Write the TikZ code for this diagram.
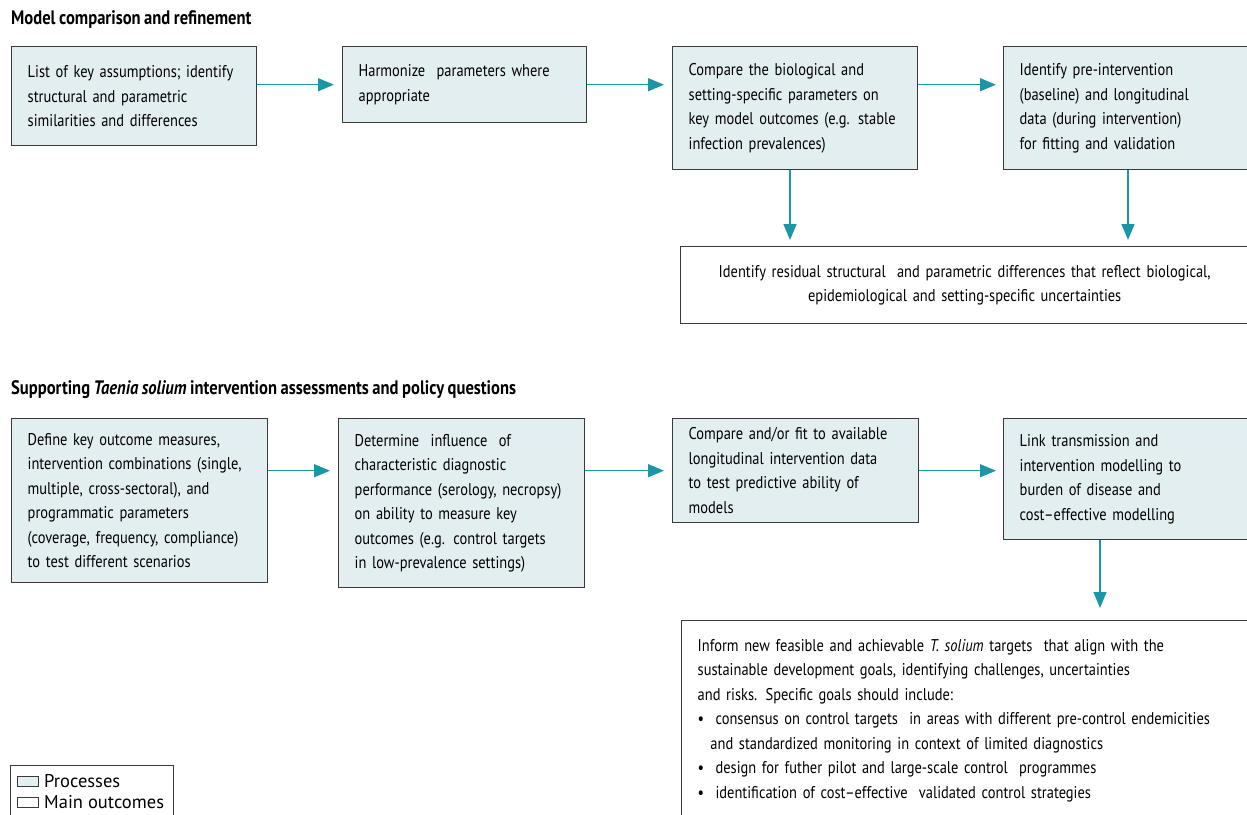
\documentclass[tikz,border=0pt]{standalone}
\usepackage{fontspec}
\setmainfont{PT Sans}[FakeStretch=0.85,WordSpace=0.85]
\newfontfamily\legendfont{PT Sans}
\usetikzlibrary{arrows.meta,calc,positioning}

\definecolor{procfill}{HTML}{E3EEF0}
\definecolor{flowteal}{HTML}{1A96A6}
\definecolor{boxline}{HTML}{3A3A3A}

\tikzset{
    plain box/.style={draw=boxline,line width=1.4pt,anchor=north west,
        inner xsep=12pt,inner ysep=4pt,
        font=\fontsize{17}{24.5}\selectfont},
    left text/.style={align=left,
        execute at begin node={\leftskip=4pt\hyphenpenalty=10000\exhyphenpenalty=10000\relax}},
    process node/.style={plain box,left text,fill=procfill},
    outcome node/.style={plain box,fill=white},
    heading/.style={anchor=west,inner sep=0pt,font=\bfseries\fontsize{19.5}{22}\selectfont},
    flow/.style={draw=flowteal,line width=1.3pt,-{Triangle[length=16pt,width=13pt]}}
    }

\begin{document}
\begin{tikzpicture}[x=1pt,y=-1pt]
    \useasboundingbox (0,0) rectangle (1247,814);
    \clip (0,0) rectangle (1247,814);

    % model comparison and refinement
    \node(t1)[heading] at (11,20) {Model comparison and refinement};
    \node(a1)[process node,minimum width=245pt,minimum height=99pt,text width=221pt] at (11,46)
        {List of key assumptions; identify\\structural and parametric\\similarities and differences};
    \node(a2)[process node,minimum width=244pt,minimum height=76pt,text width=220pt] at (342,46)
        {Harmonize\ \ parameters where\\appropriate};
    \node(a3)[process node,minimum width=245pt,minimum height=123pt,text width=221pt] at (672,46)
        {Compare the biological and\\setting-specific parameters on\\key model outcomes (e.g. stable\\infection prevalences)};
    \node(a4)[process node,minimum width=250pt,minimum height=123pt,text width=226pt] at (1003,46)
        {Identify pre-intervention\\(baseline) and longitudinal\\data (during intervention)\\for fitting and validation};
    \node(o1)[outcome node,align=center,minimum width=568pt,minimum height=77pt,text width=544pt] at (680,246)
        {Identify residual structural\ \ and parametric differences that reflect biological,\\epidemiological and setting-specific uncertainties};

    \draw[flow,shorten >=8pt] (a1.east |- a2.west) -- (a2.west);
    \draw[flow,shorten >=8pt] (a2.east) -- (a2.east -| a3.west);
    \draw[flow,shorten >=7pt] (a3.east |- a2.east) -- (a2.east -| a4.west);
    \draw[flow,shorten >=6pt] ([xshift=118pt]a3.south west) -- ([xshift=118pt]a3.south west |- o1.north);
    \draw[flow,shorten >=6pt] ([xshift=125pt]a4.south west) -- ([xshift=125pt]a4.south west |- o1.north);

    % supporting intervention assessments
    \node(t2)[heading] at (11,390) {Supporting \textit{Taenia solium} intervention assessments and policy questions};
    \node(b1)[process node,minimum width=256pt,minimum height=164pt,text width=232pt] at (11,418)
        {Define key outcome measures,\\intervention combinations (single,\\multiple, cross-sectoral), and\\programmatic parameters\\(coverage, frequency, compliance)\\to test different scenarios};
    \node(b2)[process node,minimum width=246pt,minimum height=169pt,text width=222pt] at (338,418)
        {Determine\ \ influence\ \ of\\characteristic diagnostic\\performance (serology, necropsy)\\on ability to measure key\\outcomes (e.g. control targets\\in low-prevalence settings)};
    \node(b3)[process node,minimum width=246pt,minimum height=104pt,text width=222pt] at (672,418)
        {Compare and/or fit to available\\longitudinal intervention data\\to test predictive ability of\\models};
    \node(b4)[process node,minimum width=250pt,minimum height=121pt,text width=226pt] at (1003,418)
        {Link transmission and\\intervention modelling to\\burden of disease and\\cost--effective modelling};
    \node(o2)[outcome node,left text,minimum width=580pt,minimum height=200pt,text width=556pt] at (681,620)
        {Inform new feasible and achievable \textit{T. solium} targets\ \ that align with the\\
         sustainable development goals, identifying challenges, uncertainties\\
         and risks. Specific goals should include:\\
         \textbullet\ \ consensus on control targets\ \ in areas with different pre-control endemicities\\
         \hspace*{0.75em}and standardized monitoring in context of limited diagnostics\\
         \textbullet\ \ design for futher pilot and large-scale control\ \ programmes\\
         \textbullet\ \ identification of cost--effective\ \ validated control strategies};

    \draw[flow,shorten >=8pt] (b1.east |- b3.west) -- (b2.west |- b3.west);
    \draw[flow,shorten >=8pt] (b2.east |- b3.west) -- (b3.west);
    \draw[flow,shorten >=7pt] (b3.east) -- (b3.east -| b4.west);
    \draw[flow,shorten >=12pt] ([xshift=97pt]b4.south west) -- ([xshift=97pt]b4.south west |- o2.north);

    % legend
    \node(leg)[draw=boxline,line width=1pt,anchor=north west,minimum width=163pt,minimum height=60pt] at (10,765) {};
    \node(kp)[draw=boxline,fill=procfill,line width=1pt,anchor=west,minimum width=21pt,minimum height=10pt,inner sep=0pt] at (17,781) {};
    \node(kpt)[right=5pt of kp,inner sep=0pt,font=\legendfont\fontsize{18.5}{20}\selectfont] {Processes};
    \node(ko)[draw=boxline,fill=white,line width=1pt,anchor=west,minimum width=21pt,minimum height=10pt,inner sep=0pt] at (17,802) {};
    \node(kot)[right=5pt of ko,inner sep=0pt,font=\legendfont\fontsize{18.5}{20}\selectfont] {Main outcomes};
\end{tikzpicture}
\end{document}
